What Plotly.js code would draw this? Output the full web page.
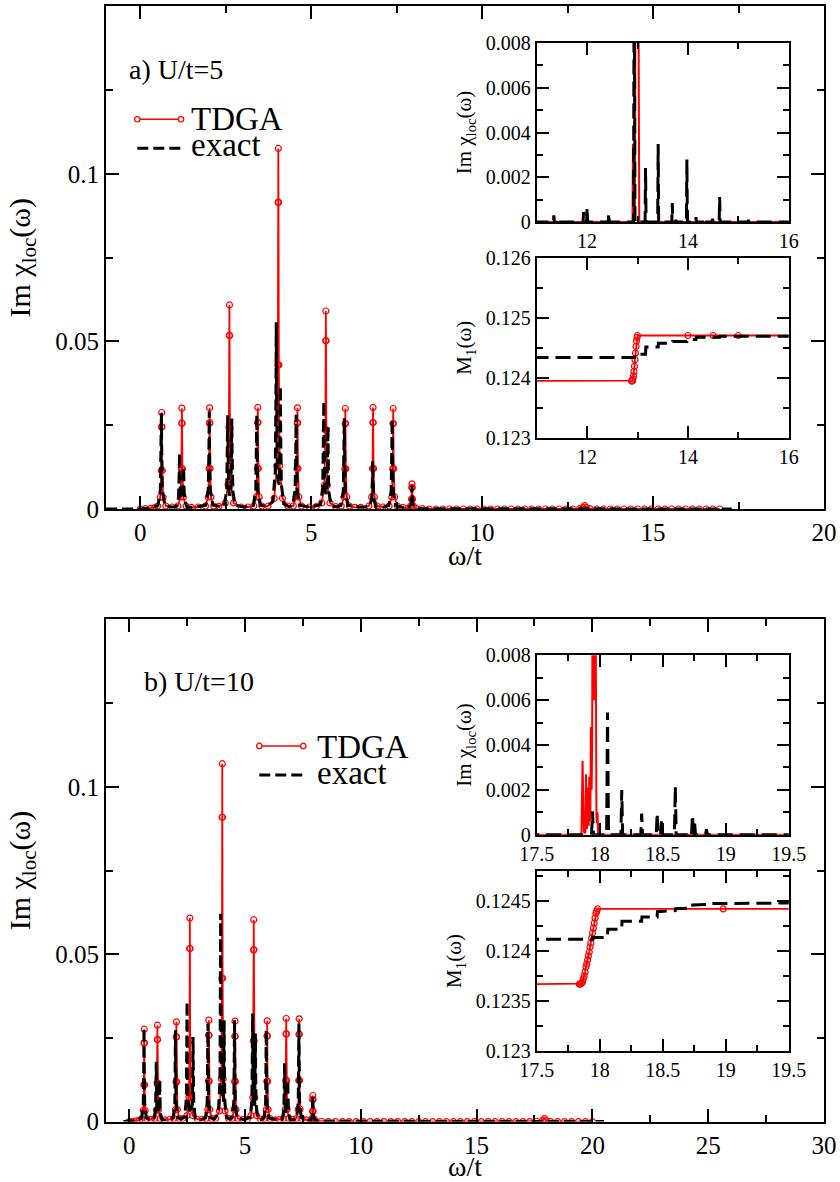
<!DOCTYPE html>
<html>
<head>
<meta charset="utf-8">
<script src="https://cdn.plot.ly/plotly-3.0.1.min.js"></script>
<style>
html,body{margin:0;padding:0;background:#fff}
#chart{width:840px;height:1182px}
</style>
</head>
<body>
<div id="chart"></div>
<script>
// ---------- DATA ----------
// Panel a) U/t=5, main: Im chi_loc(omega) vs omega/t
const aMainTdga = [[0,0],[0.15,0.0001],[0.3,0.0002],[0.42,0.0004],
[0.51,0.0009],[0.59,0.0035],[0.615,0.0115],[0.625,0.0245],[0.63,0.0288],[0.635,0.0245],[0.645,0.0115],[0.67,0.0035],[0.75,0.0009],
[0.93,0.0006],
[1.10,0.0009],[1.18,0.0036],[1.205,0.012],[1.215,0.0256],[1.22,0.0301],[1.225,0.0256],[1.235,0.012],[1.26,0.0036],[1.34,0.0009],
[1.5,0.0005],[1.7,0.0006],
[1.91,0.0009],[1.99,0.0036],[2.015,0.0121],[2.025,0.0257],[2.03,0.0302],[2.035,0.0257],[2.045,0.0121],[2.07,0.0036],[2.15,0.0009],
[2.3,0.0008],
[2.49,0.0018],[2.57,0.0073],[2.595,0.0244],[2.605,0.0518],[2.61,0.0609],[2.615,0.0518],[2.625,0.0244],[2.65,0.0073],[2.73,0.0018],
[2.95,0.0006],[3.15,0.0006],
[3.32,0.0009],[3.40,0.0036],[3.425,0.0121],[3.435,0.0258],[3.44,0.0303],[3.445,0.0258],[3.455,0.0121],[3.48,0.0036],[3.56,0.0009],
[3.74,0.0009],
[3.92,0.0032],[4.00,0.0129],[4.025,0.043],[4.035,0.0915],[4.04,0.1076],[4.045,0.0915],[4.055,0.043],[4.08,0.0129],[4.16,0.0032],
[4.32,0.0009],
[4.48,0.0009],[4.56,0.0036],[4.585,0.0121],[4.595,0.0257],[4.60,0.0302],[4.605,0.0257],[4.615,0.0121],[4.64,0.0036],[4.72,0.0009],
[4.95,0.0006],[5.15,0.0007],
[5.31,0.0018],[5.39,0.0071],[5.415,0.0236],[5.425,0.0502],[5.43,0.0591],[5.435,0.0502],[5.445,0.0236],[5.47,0.0071],[5.55,0.0018],
[5.72,0.0007],
[5.88,0.0009],[5.96,0.0036],[5.985,0.012],[5.995,0.0255],[6.00,0.030],[6.005,0.0255],[6.015,0.012],[6.04,0.0036],[6.12,0.0009],
[6.28,0.0005],[6.45,0.0005],
[6.69,0.0009],[6.77,0.0036],[6.795,0.0121],[6.805,0.0258],[6.81,0.0303],[6.815,0.0258],[6.825,0.0121],[6.85,0.0036],[6.93,0.0009],
[7.1,0.0006],
[7.28,0.0009],[7.36,0.0036],[7.385,0.012],[7.395,0.0255],[7.40,0.030],[7.405,0.0255],[7.415,0.012],[7.44,0.0036],[7.52,0.0009],
[7.68,0.0005],
[7.83,0.0002],[7.91,0.0009],[7.935,0.003],[7.945,0.0064],[7.95,0.0075],[7.955,0.0064],[7.965,0.003],[7.99,0.0009],[8.07,0.0002],
[8.25,0.0001],[8.45,0],[8.65,0],[8.85,0],[9.05,0],[9.25,0],[9.45,0],[9.65,0],[9.85,0],[10.05,0],[10.25,0],[10.45,0],[10.65,0],[10.85,0],
[11.05,0],[11.25,0],[11.45,0],[11.65,0],[11.85,0],[12.05,0],[12.25,0],[12.45,0],[12.65,0],[12.85,0.0001],[12.95,0.0004],[13.0,0.001],
[13.05,0.0004],[13.15,0.0001],[13.35,0],[13.55,0],[13.75,0],[13.95,0],[14.15,0],[14.35,0],[14.55,0],[14.75,0],[14.95,0],[15.15,0],
[15.35,0],[15.55,0],[15.75,0],[15.95,0],[16.15,0],[16.35,0],[16.55,0],[16.75,0],[16.95,0]];

const aMainExact = [[-1,0],[0,0],[0.3,0.0003],
[0.52,0.0011],[0.59,0.0057],[0.61,0.0172],[0.62,0.0286],[0.63,0.0172],[0.65,0.0057],[0.72,0.0011],
[0.9,0.0006],
[1.05,0.0007],[1.12,0.0033],[1.14,0.01],[1.15,0.0167],[1.16,0.01],[1.18,0.0035],[1.21,0.003],[1.24,0.0035],[1.26,0.0075],[1.27,0.0125],[1.28,0.0075],[1.30,0.0025],[1.37,0.0005],
[1.65,0.0006],
[1.92,0.0012],[1.99,0.0058],[2.01,0.0175],[2.02,0.0291],[2.03,0.0175],[2.05,0.0058],[2.12,0.0012],
[2.3,0.0008],
[2.46,0.0011],[2.53,0.0056],[2.55,0.0168],[2.56,0.028],[2.57,0.0168],[2.59,0.0056],[2.62,0.004],[2.65,0.0054],[2.67,0.0162],[2.68,0.027],[2.69,0.0162],[2.71,0.0054],[2.78,0.0011],
[3.05,0.0006],
[3.31,0.0011],[3.38,0.0056],[3.40,0.0169],[3.41,0.0281],[3.42,0.0169],[3.44,0.0056],[3.51,0.0011],
[3.7,0.0008],
[3.88,0.0022],[3.95,0.0111],[3.97,0.0334],[3.98,0.0557],[3.99,0.0334],[4.01,0.0111],[4.04,0.008],[4.07,0.0073],[4.09,0.022],[4.10,0.0366],[4.11,0.022],[4.13,0.0073],[4.20,0.0015],
[4.35,0.0007],
[4.46,0.0011],[4.53,0.0056],[4.55,0.0169],[4.56,0.0281],[4.57,0.0169],[4.59,0.0056],[4.66,0.0011],
[4.95,0.0006],
[5.27,0.0013],[5.34,0.0064],[5.36,0.0193],[5.37,0.0321],[5.38,0.0193],[5.40,0.0064],[5.43,0.0045],[5.46,0.0049],[5.48,0.0148],[5.49,0.0247],[5.50,0.0148],[5.52,0.0049],[5.59,0.001],
[5.75,0.0006],
[5.87,0.0011],[5.94,0.0054],[5.96,0.0163],[5.97,0.0271],[5.98,0.0163],[6.00,0.0054],[6.07,0.0011],
[6.4,0.0006],
[6.70,0.0006],[6.77,0.0029],[6.79,0.0086],[6.80,0.0143],[6.81,0.0086],[6.83,0.0029],[6.90,0.0006],
[7.1,0.0005],
[7.27,0.0011],[7.34,0.0053],[7.36,0.016],[7.37,0.0267],[7.38,0.016],[7.40,0.0053],[7.47,0.0011],
[7.7,0.0004],
[7.85,0.0003],[7.92,0.0014],[7.94,0.0041],[7.95,0.0069],[7.96,0.0041],[7.98,0.0014],[8.05,0.0003],
[8.3,0.0001],[17.3,0]];

// Panel a) insets
const aInsetChiTdga = [[10.5,0],[12.9,0],[12.91,0.0035],[12.92,0.0001],[12.95,0.0001],[12.96,0.012],[12.99,0.03],[13.02,0.012],[13.035,0.0001],[13.06,0],[16.5,0]];
const aInsetChiExact = [[10.5,0],[11.33,0],[11.34,0.0003],[11.35,0],[11.41,0],[11.42,0.00015],[11.43,0],[11.92,0],[11.93,0.00045],[11.95,0],
[11.99,0],[12.0,0.00066],[12.01,0],[12.42,0],[12.43,0.0004],[12.44,0],[12.92,0],[12.935,0.012],[12.95,0],[13.15,0],[13.16,0.00241],[13.17,0],
[13.40,0],[13.41,0.00349],[13.42,0],[13.68,0],[13.69,0.00085],[13.7,0],[13.75,0],[13.76,0.0001],[13.77,0],[13.97,0],[13.98,0.00279],[13.99,0],
[14.15,0],[14.16,0.00022],[14.17,0],[14.32,0],[14.33,0.00015],[14.34,0],[14.48,0],[14.49,0.00015],[14.5,0],[14.62,0],[14.63,0.00112],[14.64,0],
[15.19,0],[15.2,0.0001],[15.21,0],[16.5,0]];
const aInsetM1Tdga = [[10.5,0.123944],[12.885,0.123944],[12.89,0.123945],[12.895,0.123947],[12.90,0.12395],[12.91,0.12398],[12.92,0.12403],[12.93,0.1241],
[12.94,0.12419],[12.95,0.1243],[12.96,0.12441],[12.97,0.12452],[12.98,0.12461],[12.99,0.12467],[13.0,0.124704],[14.0,0.124704],[14.5,0.124704],[15.0,0.124704],[16.5,0.124704]];
const aInsetM1Exact = [[10.5,0.124335],[12.935,0.124335],[12.94,0.12439],[13.16,0.12439],[13.165,0.12451],[13.41,0.12451],[13.415,0.124575],[13.69,0.124575],
[13.695,0.124605],[13.98,0.124605],[13.985,0.124635],[14.16,0.124635],[14.165,0.124676],[14.63,0.124676],[14.635,0.124693],[16.5,0.124693]];

// Panel b) U/t=10, main
const bMainTdga = [[0,0],[0.15,0.0001],[0.3,0.0002],[0.44,0.0004],
[0.53,0.0008],[0.61,0.0033],[0.635,0.011],[0.645,0.0235],[0.65,0.0276],[0.655,0.0235],[0.665,0.011],[0.69,0.0033],[0.77,0.0008],
[0.94,0.0006],
[1.10,0.0009],[1.18,0.0035],[1.205,0.0115],[1.215,0.0245],[1.22,0.0288],[1.225,0.0245],[1.235,0.0115],[1.26,0.0035],[1.34,0.0009],
[1.55,0.0005],[1.75,0.0007],
[1.92,0.0009],[2.00,0.0036],[2.025,0.0119],[2.035,0.0253],[2.04,0.0298],[2.045,0.0253],[2.055,0.0119],[2.08,0.0036],[2.16,0.0009],
[2.32,0.0009],
[2.50,0.0018],[2.58,0.0073],[2.605,0.0243],[2.615,0.0517],[2.62,0.0608],[2.625,0.0517],[2.635,0.0243],[2.66,0.0073],[2.74,0.0018],
[2.95,0.0007],[3.15,0.0007],
[3.32,0.0009],[3.40,0.0036],[3.425,0.0121],[3.435,0.0258],[3.44,0.0303],[3.445,0.0258],[3.455,0.0121],[3.48,0.0036],[3.56,0.0009],
[3.73,0.0009],
[3.90,0.0032],[3.98,0.0128],[4.005,0.0428],[4.015,0.0909],[4.02,0.1069],[4.025,0.0909],[4.035,0.0428],[4.06,0.0128],[4.14,0.0032],
[4.3,0.0009],
[4.45,0.0009],[4.53,0.0036],[4.555,0.012],[4.565,0.0255],[4.57,0.030],[4.575,0.0255],[4.585,0.012],[4.61,0.0036],[4.69,0.0009],
[4.9,0.0006],[5.1,0.0007],
[5.26,0.0018],[5.34,0.0072],[5.365,0.0241],[5.375,0.0513],[5.38,0.0603],[5.385,0.0513],[5.395,0.0241],[5.42,0.0072],[5.50,0.0018],
[5.67,0.0007],
[5.84,0.0009],[5.92,0.0036],[5.945,0.012],[5.955,0.0256],[5.96,0.0301],[5.965,0.0256],[5.975,0.012],[6.00,0.0036],[6.08,0.0009],
[6.3,0.0005],[6.48,0.0006],
[6.66,0.0009],[6.74,0.0037],[6.765,0.0123],[6.775,0.0262],[6.78,0.0308],[6.785,0.0262],[6.795,0.0123],[6.82,0.0037],[6.90,0.0009],
[7.06,0.0007],
[7.22,0.0009],[7.30,0.0037],[7.325,0.0123],[7.335,0.0261],[7.34,0.0307],[7.345,0.0261],[7.355,0.0123],[7.38,0.0037],[7.46,0.0009],
[7.64,0.0005],
[7.81,0.0002],[7.89,0.0009],[7.915,0.0031],[7.925,0.0066],[7.93,0.0078],[7.935,0.0066],[7.945,0.0031],[7.97,0.0009],[8.05,0.0002],
[8.3,0.0001],[8.6,0],[8.9,0],[9.2,0],[9.5,0],[9.8,0],[10.1,0],[10.4,0],[10.7,0],[11.0,0],[11.3,0],[11.6,0],[11.9,0],[12.2,0],[12.5,0],
[12.8,0],[13.1,0],[13.4,0],[13.7,0],[14.0,0],[14.3,0],[14.6,0],[14.9,0],[15.2,0],[15.5,0],[15.8,0],[16.1,0],[16.4,0],[16.7,0],[17.0,0],
[17.3,0],[17.6,0.0001],[17.85,0.0004],[17.93,0.0009],[18.0,0.0003],[18.2,0],[18.5,0],[18.8,0],[19.1,0],[19.4,0],[19.7,0],[20.0,0]];

const bMainExact = [[-0.25,0],[0.3,0.0003],
[0.54,0.0011],[0.61,0.0056],[0.63,0.0168],[0.64,0.028],[0.65,0.0168],[0.67,0.0056],[0.74,0.0011],
[0.92,0.0006],
[1.07,0.0007],[1.14,0.0036],[1.16,0.0107],[1.17,0.0179],[1.18,0.0107],[1.20,0.0036],[1.245,0.0025],[1.29,0.0025],[1.31,0.0074],[1.32,0.0124],[1.33,0.0074],[1.35,0.0025],[1.42,0.0005],
[1.65,0.0005],
[1.90,0.0011],[1.97,0.0055],[1.99,0.0164],[2.00,0.0273],[2.01,0.0164],[2.03,0.0055],[2.10,0.0011],
[2.25,0.0008],
[2.40,0.0014],[2.47,0.0072],[2.49,0.0215],[2.50,0.0358],[2.51,0.0215],[2.53,0.0072],[2.63,0.0025],[2.73,0.0051],[2.75,0.0152],[2.76,0.0253],[2.77,0.0152],[2.79,0.0051],[2.86,0.001],
[3.1,0.0006],
[3.30,0.0012],[3.37,0.0059],[3.39,0.0176],[3.40,0.0293],[3.41,0.0176],[3.43,0.0059],[3.50,0.0012],
[3.68,0.0008],
[3.85,0.0025],[3.92,0.0124],[3.94,0.0373],[3.95,0.0621],[3.96,0.0373],[3.98,0.0124],[4.025,0.007],[4.07,0.0061],[4.09,0.0182],[4.10,0.0303],[4.11,0.0182],[4.13,0.0061],[4.20,0.0012],
[4.33,0.0008],
[4.45,0.0012],[4.52,0.0061],[4.54,0.0182],[4.55,0.0303],[4.56,0.0182],[4.58,0.0061],[4.65,0.0012],
[4.95,0.0006],
[5.23,0.0013],[5.30,0.0065],[5.32,0.0194],[5.33,0.0323],[5.34,0.0194],[5.36,0.0065],[5.39,0.0045],[5.42,0.0053],[5.44,0.0158],[5.45,0.0263],[5.46,0.0158],[5.48,0.0053],[5.55,0.0011],
[5.7,0.0006],
[5.82,0.0011],[5.89,0.0055],[5.91,0.0164],[5.92,0.0273],[5.93,0.0164],[5.95,0.0055],[6.02,0.0011],
[6.35,0.0006],
[6.61,0.0007],[6.68,0.0035],[6.70,0.0104],[6.71,0.0174],[6.72,0.0104],[6.74,0.0035],[6.78,0.0025],[6.82,0.0025],[6.84,0.0074],[6.85,0.0124],[6.86,0.0074],[6.88,0.0025],[6.95,0.0005],
[7.1,0.0005],
[7.23,0.0012],[7.30,0.0059],[7.32,0.0176],[7.33,0.0293],[7.34,0.0176],[7.36,0.0059],[7.43,0.0012],
[7.65,0.0005],
[7.83,0.0003],[7.90,0.0016],[7.92,0.0048],[7.93,0.008],[7.94,0.0048],[7.96,0.0016],[8.03,0.0003],
[8.3,0.0001],[20.5,0]];

// Panel b) insets
const bInsetChiTdga = [[17.4,0],[17.855,0],[17.864,0.0033],[17.87,0.0001],[17.874,0.0001],[17.877,0.0007],[17.88,0.0001],[17.886,0.0001],
[17.891,0.0027],[17.897,0.0003],[17.9,0.0003],[17.904,0.0021],[17.91,0.0004],[17.913,0.0004],[17.917,0.0026],[17.922,0.0006],[17.926,0.0008],
[17.93,0.0048],[17.936,0.002],[17.94,0.004],[17.945,0.015],[17.95,0.006],[17.955,0.014],[17.962,0.006],[17.967,0.012],[17.974,0.0008],
[17.979,0.0005],[17.983,0.001],[17.988,0],[19.6,0]];
const bInsetChiExact = [[17.4,0],[17.935,0],[17.943,0.00104],[17.95,0],[18.055,0],[18.062,0.00545],[18.07,0],[18.168,0],[18.175,0.00199],[18.182,0],
[18.326,0],[18.333,0.00094],[18.34,0],[18.449,0],[18.456,0.00097],[18.463,0],[18.483,0],[18.49,0.0006],[18.497,0],[18.593,0],[18.6,0.00216],[18.607,0],
[18.70,0],[18.71,0.0001],[18.72,0],[18.729,0],[18.736,0.00087],[18.745,0.0001],[18.754,0.0005],[18.76,0],[18.84,0],[18.847,0.00024],[18.854,0],[19.6,0]];
const bInsetM1Tdga = [[17.4,0.123666],[17.838,0.123666],[17.845,0.123668],[17.852,0.123672],[17.858,0.12368],[17.864,0.12369],[17.87,0.12372],
[17.877,0.12375],[17.884,0.12379],[17.891,0.12384],[17.897,0.12387],[17.904,0.12391],[17.91,0.12395],[17.917,0.12399],[17.923,0.12404],
[17.93,0.12408],[17.936,0.12413],[17.943,0.12418],[17.95,0.12423],[17.956,0.12428],[17.963,0.12433],[17.97,0.12438],[17.976,0.1244],
[17.983,0.124423],[18.98,0.124423],[19.6,0.124423]];
const bInsetM1Exact = [[17.4,0.124118],[17.943,0.124118],[17.945,0.124135],[18.062,0.124135],[18.064,0.124219],[18.175,0.124219],[18.177,0.124298],
[18.333,0.124298],[18.335,0.124342],[18.456,0.124342],[18.458,0.124395],[18.6,0.124405],[18.602,0.124425],[18.736,0.12443],[18.738,0.124462],
[18.847,0.124468],[18.849,0.124476],[19.6,0.124482]];

// Tick values / labels
const mainYTicks = [0, 0.05, 0.1];
const mainYLabels = ['0', '0.05', '0.1'];
const aMainXTicks = [0, 5, 10, 15, 20];
const bMainXTicks = [0, 5, 10, 15, 20, 25, 30];
const aInsetXTicks = [12, 14, 16];
const bInsetXTicks = [17.5, 18, 18.5, 19, 19.5];
const bInsetXLabels = ['17.5', '18', '18.5', '19', '19.5'];
const chiTicks = [0, 0.002, 0.004, 0.006, 0.008];
const chiLabels = ['0', '0.002', '0.004', '0.006', '0.008'];
const aM1Ticks = [0.123, 0.124, 0.125, 0.126];
const aM1Labels = ['0.123', '0.124', '0.125', '0.126'];
const bM1Ticks = [0.123, 0.1235, 0.124, 0.1245];
const bM1Labels = ['0.123', '0.1235', '0.124', '0.1245'];

const seriesNames = ['TDGA', 'exact'];
const panelLabels = ['a) U/t=5', 'b) U/t=10'];
const xTitle = 'ω/t';

// ---------- STYLE ----------
const SERIF = 'Liberation Serif';
const RED = '#ff0000';
const BLK = '#000000';
const W = 840, H = 1182;
const px = v => v / W;
const py = v => 1 - v / H;

function trace(pairs, xa, ya, kind, name) {
  const t = {type: 'scatter', x: pairs.map(p => p[0]), y: pairs.map(p => p[1]),
    xaxis: xa, yaxis: ya, name: name, showlegend: false, hoverinfo: 'skip', cliponaxis: true};
  if (kind === 'redMarked') {
    t.mode = 'lines+markers';
    t.line = {color: RED, width: 1.8};
    t.marker = {symbol: 'circle-open', size: 6, color: RED, line: {width: 1.2, color: RED}};
  } else if (kind === 'redLine') {
    t.mode = 'lines';
    t.line = {color: RED, width: 2};
  } else if (kind === 'blackMain') {
    t.mode = 'lines';
    t.line = {color: BLK, width: 3, dash: '11px,5px'};
  } else {
    t.mode = 'lines';
    t.line = {color: BLK, width: 3, dash: '15px,7px'};
  }
  return t;
}

const data = [
  trace(aMainTdga, 'x', 'y', 'redMarked', seriesNames[0]),
  trace(aMainExact, 'x', 'y', 'blackMain', seriesNames[1]),
  trace(aInsetChiTdga, 'x2', 'y2', 'redLine', seriesNames[0]),
  trace(aInsetChiExact, 'x2', 'y2', 'blackInset', seriesNames[1]),
  trace(aInsetM1Tdga, 'x3', 'y3', 'redMarked', seriesNames[0]),
  trace(aInsetM1Exact, 'x3', 'y3', 'blackInset', seriesNames[1]),
  trace(bMainTdga, 'x4', 'y4', 'redMarked', seriesNames[0]),
  trace(bMainExact, 'x4', 'y4', 'blackMain', seriesNames[1]),
  trace(bInsetChiTdga, 'x5', 'y5', 'redLine', seriesNames[0]),
  trace(bInsetChiExact, 'x5', 'y5', 'blackInset', seriesNames[1]),
  trace(bInsetM1Tdga, 'x6', 'y6', 'redMarked', seriesNames[0]),
  trace(bInsetM1Exact, 'x6', 'y6', 'blackInset', seriesNames[1])
];

function axis(opts, fontSize, minorDtick, minorTick0, majorLen, minorLen) {
  return Object.assign({
    showline: true, linecolor: BLK, linewidth: 2, mirror: 'allticks',
    ticks: 'inside', ticklen: majorLen, tickwidth: 1.5, tickcolor: BLK,
    showgrid: false, zeroline: false, tickmode: 'array',
    tickfont: {family: SERIF, size: fontSize, color: BLK},
    minor: {ticks: 'inside', ticklen: minorLen, tickwidth: 1.5, tickcolor: BLK, showgrid: false,
            dtick: minorDtick, tick0: minorTick0},
    fixedrange: true
  }, opts);
}

const mainXDom = [px(106), px(824)];
const insXDom = [px(536.7), px(788.7)];
const yTitle = 'Im χ<sub>loc</sub>(ω)';
const m1Title = 'M<sub>1</sub>(ω)';

function note(text, x, y, size, anchor, extra) {
  return Object.assign({text: text, xref: 'paper', yref: 'paper', x: px(x), y: py(y), xanchor: anchor, yanchor: 'middle',
    showarrow: false, font: {family: SERIF, size: size, color: BLK}}, extra || {});
}

const layout = {
  width: W, height: H,
  margin: {l: 0, r: 0, t: 0, b: 0},
  paper_bgcolor: '#fff', plot_bgcolor: '#fff',
  showlegend: false,
  font: {family: SERIF, color: BLK},
  // panel a main
  xaxis: axis({domain: mainXDom, anchor: 'y', range: [-1, 20], tickvals: aMainXTicks}, 25, 2.5, 0, 13, 7),
  yaxis: axis({domain: [py(509), py(6.4)], anchor: 'x', range: [0, 0.15], tickvals: mainYTicks, ticktext: mainYLabels,
    title: {text: yTitle, font: {family: SERIF, size: 30, color: BLK}, standoff: 16}}, 25, 0.025, 0, 13, 7),
  // panel a inset chi
  xaxis2: axis({domain: insXDom, anchor: 'y2', range: [11, 16], tickvals: aInsetXTicks}, 20, 1, 11, 12, 6),
  yaxis2: axis({domain: [py(222.1), py(42.9)], anchor: 'x2', range: [0, 0.008], tickvals: chiTicks, ticktext: chiLabels,
    title: {text: yTitle, font: {family: SERIF, size: 21, color: BLK}, standoff: 8}}, 20, 0.001, 0, 12, 6),
  // panel a inset M1
  xaxis3: axis({domain: insXDom, anchor: 'y3', range: [11, 16], tickvals: aInsetXTicks}, 20, 1, 11, 12, 6),
  yaxis3: axis({domain: [py(437.5), py(257.9)], anchor: 'x3', range: [0.123, 0.126], tickvals: aM1Ticks, ticktext: aM1Labels,
    title: {text: m1Title, font: {family: SERIF, size: 21, color: BLK}, standoff: 8}}, 20, 0.0005, 0.123, 12, 6),
  // panel b main
  xaxis4: axis({domain: mainXDom, anchor: 'y4', range: [-1, 30], tickvals: bMainXTicks}, 25, 2.5, 0, 13, 7),
  yaxis4: axis({domain: [py(1121.6), py(619.4)], anchor: 'x4', range: [0, 0.15], tickvals: mainYTicks, ticktext: mainYLabels,
    title: {text: yTitle, font: {family: SERIF, size: 30, color: BLK}, standoff: 16}}, 25, 0.025, 0, 13, 7),
  // panel b inset chi
  xaxis5: axis({domain: insXDom, anchor: 'y5', range: [17.5, 19.5], tickvals: bInsetXTicks, ticktext: bInsetXLabels}, 20, 0.25, 17.5, 12, 6),
  yaxis5: axis({domain: [py(834.7), py(655.3)], anchor: 'x5', range: [0, 0.008], tickvals: chiTicks, ticktext: chiLabels,
    title: {text: yTitle, font: {family: SERIF, size: 21, color: BLK}, standoff: 8}}, 20, 0.001, 0, 12, 6),
  // panel b inset M1
  xaxis6: axis({domain: insXDom, anchor: 'y6', range: [17.5, 19.5], tickvals: bInsetXTicks, ticktext: bInsetXLabels}, 20, 0.25, 17.5, 12, 6),
  yaxis6: axis({domain: [py(1050.6), py(871.3)], anchor: 'x6', range: [0.123, 0.1248], tickvals: bM1Ticks, ticktext: bM1Labels,
    title: {text: m1Title, font: {family: SERIF, size: 21, color: BLK}, standoff: 8}}, 20, 0.00025, 0.123, 12, 6),
  annotations: [
    note(panelLabels[0], 127, 70, 28, 'left'),
    note(panelLabels[1], 142, 681, 28, 'left'),
    note(seriesNames[0], 189, 119, 33, 'left', {height: 26}),
    note(seriesNames[1], 189, 145, 33, 'left', {height: 26}),
    note(seriesNames[0], 315, 747, 33, 'left', {height: 26}),
    note(seriesNames[1], 315, 773, 33, 'left', {height: 26}),
    // x-axis titles of the two main panels
    note(xTitle, 465, 555, 28, 'center', {height: 24}),
    note(xTitle, 465, 1166, 28, 'center', {height: 24})
  ],
  shapes: []
};

// legend keys (drawn as shapes next to the legend texts)
function legendKey(x0, x1, yRed, yBlack) {
  layout.shapes.push({type: 'line', xref: 'paper', yref: 'paper', x0: px(x0), x1: px(x1), y0: py(yRed), y1: py(yRed),
    line: {color: RED, width: 1.5}});
  [x0, x1].forEach(xx => layout.shapes.push({type: 'circle', xref: 'paper', yref: 'paper',
    xsizemode: 'pixel', ysizemode: 'pixel', xanchor: px(xx), yanchor: py(yRed),
    x0: -2.7, x1: 2.7, y0: -2.7, y1: 2.7, line: {color: RED, width: 1.2}, fillcolor: '#fff'}));
  layout.shapes.push({type: 'line', xref: 'paper', yref: 'paper', x0: px(x0), x1: px(x1), y0: py(yBlack), y1: py(yBlack),
    line: {color: BLK, width: 3, dash: '11px,5px'}});
}
legendKey(137.3, 181, 119.3, 148.3);
legendKey(259.3, 303.3, 745.9, 775);

Plotly.newPlot('chart', data, layout, {displayModeBar: false});
</script>
</body>
</html>
